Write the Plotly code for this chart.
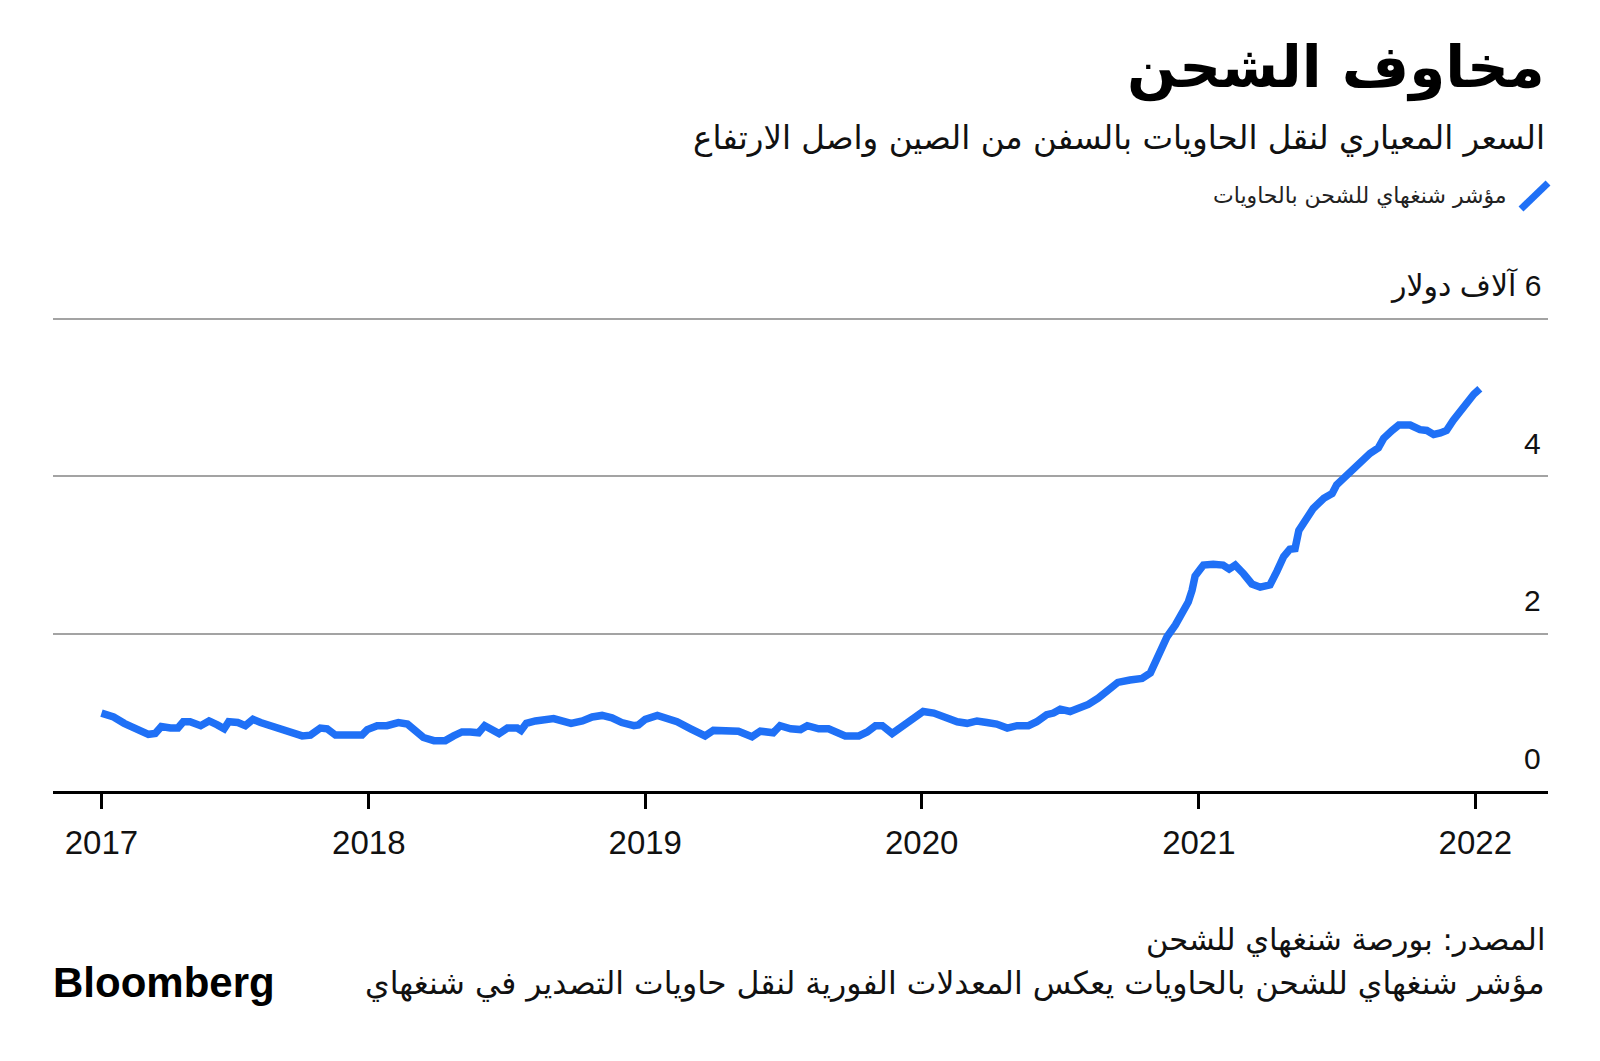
import plotly.graph_objects as go

# ---------------- data (SCFI, thousand USD) ----------------
dates = [
    "2017-01-13", "2017-01-29", "2017-02-12", "2017-03-01", "2017-03-16", "2017-03-25", "2017-04-02", "2017-04-14", "2017-04-24", "2017-05-01",
    "2017-05-10", "2017-05-24", "2017-06-04", "2017-06-15", "2017-06-24", "2017-06-30", "2017-07-12", "2017-07-22", "2017-08-01", "2017-08-11",
    "2017-08-22", "2017-09-02", "2017-09-19", "2017-10-05", "2017-10-16", "2017-10-29", "2017-11-07", "2017-11-18", "2017-12-08", "2017-12-23",
    "2017-12-30", "2018-01-12", "2018-01-25", "2018-02-09", "2018-02-21", "2018-03-02", "2018-03-14", "2018-03-28", "2018-04-12", "2018-04-23",
    "2018-05-04", "2018-05-15", "2018-05-26", "2018-06-03", "2018-06-13", "2018-06-22", "2018-07-03", "2018-07-16", "2018-07-21", "2018-07-28",
    "2018-08-09", "2018-08-20", "2018-09-02", "2018-09-13", "2018-09-25", "2018-10-10", "2018-10-23", "2018-11-05", "2018-11-18", "2018-12-01",
    "2018-12-17", "2018-12-23", "2019-01-01", "2019-01-17", "2019-01-30", "2019-02-12", "2019-03-02", "2019-03-21", "2019-04-01", "2019-04-19",
    "2019-05-04", "2019-05-22", "2019-06-02", "2019-06-19", "2019-06-28", "2019-07-12", "2019-07-25", "2019-08-03", "2019-08-18", "2019-08-31",
    "2019-09-11", "2019-09-22", "2019-10-10", "2019-10-21", "2019-11-01", "2019-11-10", "2019-11-23", "2019-12-04", "2019-12-17", "2019-12-26",
    "2020-01-03", "2020-01-17", "2020-02-03", "2020-02-17", "2020-03-01", "2020-03-14", "2020-03-27", "2020-04-09", "2020-04-23", "2020-05-06",
    "2020-05-21", "2020-06-01", "2020-06-14", "2020-06-23", "2020-07-02", "2020-07-15", "2020-07-26", "2020-08-08", "2020-08-21", "2020-09-03",
    "2020-09-16", "2020-10-02", "2020-10-18", "2020-10-29", "2020-11-04", "2020-11-11", "2020-11-20", "2020-12-01", "2020-12-09", "2020-12-18",
    "2020-12-23", "2020-12-27", "2021-01-03", "2021-01-07", "2021-01-20", "2021-02-02", "2021-02-10", "2021-02-18", "2021-03-01", "2021-03-12",
    "2021-03-23", "2021-04-05", "2021-04-14", "2021-04-23", "2021-05-01", "2021-05-08", "2021-05-13", "2021-05-21", "2021-06-01", "2021-06-15",
    "2021-06-26", "2021-07-02", "2021-07-13", "2021-07-20", "2021-07-31", "2021-08-15", "2021-08-26", "2021-09-02", "2021-09-13", "2021-09-22",
    "2021-10-07", "2021-10-20", "2021-10-29", "2021-11-07", "2021-11-16", "2021-11-24", "2021-12-03", "2021-12-12", "2021-12-21", "2021-12-30",
    "2022-01-07",
]

values = [
    0.99, 0.94, 0.86, 0.78, 0.72, 0.73, 0.82, 0.80, 0.80, 0.88,
    0.88, 0.83, 0.89, 0.84, 0.79, 0.88, 0.87, 0.83, 0.91, 0.87,
    0.84, 0.80, 0.75, 0.70, 0.71, 0.80, 0.79, 0.71, 0.71, 0.71,
    0.78, 0.83, 0.83, 0.87, 0.85, 0.78, 0.68, 0.64, 0.64, 0.70,
    0.75, 0.75, 0.74, 0.83, 0.78, 0.73, 0.80, 0.80, 0.77, 0.86,
    0.89, 0.90, 0.92, 0.89, 0.86, 0.89, 0.94, 0.96, 0.93, 0.87,
    0.83, 0.84, 0.91, 0.96, 0.93, 0.88, 0.79, 0.70, 0.77, 0.76,
    0.76, 0.69, 0.76, 0.74, 0.83, 0.79, 0.78, 0.83, 0.79, 0.79,
    0.75, 0.70, 0.70, 0.75, 0.83, 0.83, 0.73, 0.80, 0.88, 0.94,
    1.01, 0.99, 0.92, 0.88, 0.86, 0.89, 0.87, 0.85, 0.80, 0.83,
    0.83, 0.88, 0.97, 0.99, 1.04, 1.01, 1.05, 1.10, 1.18, 1.28,
    1.38, 1.41, 1.43, 1.50, 1.62, 1.81, 1.96, 2.11, 2.26, 2.40,
    2.55, 2.73, 2.82, 2.87, 2.88, 2.87, 2.82, 2.87, 2.76, 2.63,
    2.59, 2.62, 2.79, 2.98, 3.07, 3.08, 3.31, 3.42, 3.59, 3.72,
    3.78, 3.89, 3.99, 4.08, 4.18, 4.29, 4.36, 4.48, 4.58, 4.65,
    4.65, 4.59, 4.58, 4.53, 4.55, 4.58, 4.71, 4.83, 4.92, 5.04,
    5.11,
]

x_tick_vals = ["2017-01-13", "2018-01-01", "2019-01-01", "2020-01-01", "2021-01-01", "2022-01-01"]
x_tick_text = ["2017", "2018", "2019", "2020", "2021", "2022"]
y_tick_vals = [0, 2, 4, 6]
y_tick_text = ["0", "2", "4", "آلاف دولار\u200e 6"]

title_text = "مخاوف الشحن"
subtitle_text = "السعر المعياري لنقل الحاويات بالسفن من الصين واصل الارتفاع"
legend_text = "مؤشر شنغهاي للشحن بالحاويات"
source_text = "المصدر: بورصة شنغهاي للشحن"
note_text = "مؤشر شنغهاي للشحن بالحاويات يعكس المعدلات الفورية لنقل حاويات التصدير في شنغهاي"

# ---------------- layout geometry ----------------
W, H = 1600, 1061
ML, MR, MT, MB = 53, 52, 303, 270
PW, PH = W - ML - MR, H - MT - MB
BLUE = "#1f70f6"
ARABIC = "DejaVu Sans"
LATIN = "Liberation Sans, Arial, Helvetica, sans-serif"


def px_x(x):
    return (x - ML) / PW


def px_y(y):
    return (H - MB - y) / PH


fig = go.Figure()
fig.add_trace(go.Scatter(
    x=dates, y=values, mode="lines",
    line=dict(color=BLUE, width=7.5),
    hoverinfo="skip", showlegend=False,
))

annotations = []
# y tick labels (above the grid lines, right aligned)
for v, t in zip(y_tick_vals, y_tick_text):
    annotations.append(dict(
        x=1, xref="paper", xanchor="right", xshift=-5,
        y=v, yref="y", yanchor="middle", yshift=33,
        text=t, showarrow=False,
        font=dict(family="Liberation Sans, DejaVu Sans", size=30, color="#111111"),
    ))

annotations += [
    dict(x=px_x(1547), y=px_y(67), xref="paper", yref="paper", xanchor="right", yanchor="middle",
         text=title_text, showarrow=False,
         font=dict(family=ARABIC, size=58, color="#000000", weight=700)),
    dict(x=px_x(1547), y=px_y(138), xref="paper", yref="paper", xanchor="right", yanchor="middle",
         text=subtitle_text, showarrow=False,
         font=dict(family=ARABIC, size=32.5, color="#111111")),
    dict(x=px_x(1509), y=px_y(195), xref="paper", yref="paper", xanchor="right", yanchor="middle",
         text=legend_text, showarrow=False,
         font=dict(family=ARABIC, size=22, color="#222222")),
    dict(x=px_x(1547), y=px_y(940), xref="paper", yref="paper", xanchor="right", yanchor="middle",
         text=source_text, showarrow=False,
         font=dict(family=ARABIC, size=30.5, color="#111111")),
    dict(x=px_x(1547), y=px_y(983), xref="paper", yref="paper", xanchor="right", yanchor="middle",
         text=note_text, showarrow=False,
         font=dict(family=ARABIC, size=31.5, color="#111111")),
    dict(x=px_x(51), y=px_y(982), xref="paper", yref="paper", xanchor="left", yanchor="middle",
         text="Bloomberg", showarrow=False,
         font=dict(family=LATIN, size=42, color="#000000", weight=700)),
]

shapes = [
    dict(type="line", xref="paper", yref="paper",
         x0=px_x(1521), y0=px_y(209), x1=px_x(1548), y1=px_y(183),
         line=dict(color=BLUE, width=7)),
]

fig.update_layout(
    width=W, height=H, autosize=False,
    margin=dict(l=ML, r=MR, t=MT, b=MB, pad=0),
    paper_bgcolor="white", plot_bgcolor="white",
    showlegend=False,
    annotations=annotations,
    shapes=shapes,
    xaxis=dict(
        type="date", range=["2016-11-10", "2022-04-07"],
        tickmode="array", tickvals=x_tick_vals, ticktext=x_tick_text,
        ticks="outside", ticklen=15, tickwidth=3, tickcolor="#000000",
        ticklabelstandoff=5,
        showline=True, linecolor="#000000", linewidth=3,
        showgrid=False, zeroline=False,
        tickfont=dict(family=LATIN, size=33, color="#111111"),
        fixedrange=True,
    ),
    yaxis=dict(
        range=[0, 6.2], tickmode="array", tickvals=y_tick_vals,
        showticklabels=False, ticks="",
        showgrid=True, gridcolor="#a3a3a3", gridwidth=1.5,
        zeroline=False, showline=False, fixedrange=True,
    ),
)

fig.write_html("out.html", config={"displayModeBar": False})
